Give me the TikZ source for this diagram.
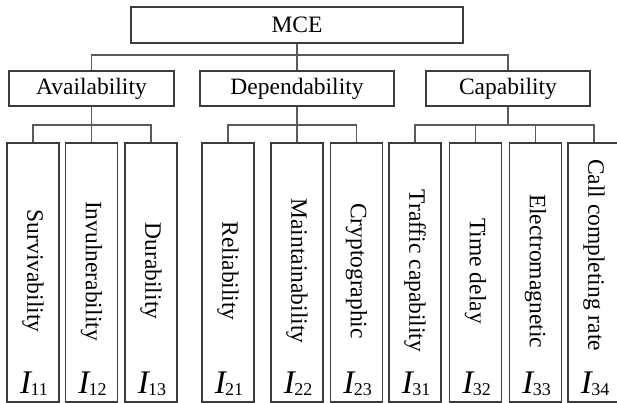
\documentclass[tikz,border=0pt]{standalone}
\usepackage{fontspec}
\setmainfont{Liberation Serif}
\definecolor{boxc}{RGB}{60,60,60}
\definecolor{linec}{RGB}{90,90,90}
\newcommand{\ilab}[1]{{\fontsize{33}{33}\selectfont\itshape I}\kern-0.5pt\raisebox{-2.5pt}{\fontsize{18}{18}\selectfont #1}}
\begin{document}
\begin{tikzpicture}[x=1pt,y=-1pt,
  box/.style={draw=boxc, line width=1.2pt, inner sep=0pt, font=\fontsize{23.5}{24}\selectfont},
  leaf/.style={draw=boxc, line width=1.2pt, minimum width=52pt, minimum height=259pt, inner sep=0pt},
  ltxt/.style={rotate=-90, font=\fontsize{23.5}{24}\selectfont, inner sep=0pt},
  ilabel/.style={anchor=base, inner sep=0pt},
  conn/.style={draw=linec, line width=1.2pt}]
\useasboundingbox (0,0) rectangle (617,403);
% top
\node[box, minimum width=332pt, minimum height=36pt] (mce) at (297,25) {MCE};
\node[box, minimum width=165pt, minimum height=35pt] (av) at (91.5,88.5) {Availability};
\node[box, minimum width=194pt, minimum height=35pt] (dep) at (297,88.5) {Dependability};
\node[box, minimum width=164pt, minimum height=35pt] (cap) at (508,88.5) {Capability};
\coordinate (t0) at (297,55);
\draw[conn] (mce.south) -- (t0);
\draw[conn] (av.north) |- (t0) -| (cap.north);
\draw[conn] (t0) -- (dep.north);
% leaves
\foreach \n/\cx in {l11/33, l12/91.5, l13/151, l21/228, l22/297, l23/356.5, l31/415, l32/475.5, l33/535.5, l34/594}{
  \node[leaf] (\n) at (\cx,272.5) {};
}
% group connectors
\coordinate (j1) at (91.5,125);
\coordinate (j2) at (297,125);
\coordinate (j3) at (508,125);
\draw[conn] (av.south) -- (j1);
\draw[conn] (l11.north) |- (j1) -| (l13.north);
\draw[conn] (j1) -- (l12.north);
\draw[conn] (dep.south) -- (j2);
\draw[conn] (l21.north) |- (j2) -| (l23.north);
\draw[conn] (j2) -- (l22.north);
\draw[conn] (cap.south) -- (j3);
\draw[conn] (l31.north) |- (j3) -| (l34.north);
\draw[conn] (l32.north |- j3) -- (l32.north);
\draw[conn] (l33.north |- j3) -- (l33.north);
% leaf texts
\node[ltxt] (s11) at (l11 |- 0,271) {Survivability};
\node[ltxt] (s12) at (l12 |- 0,271) {Invulnerability};
\node[ltxt] (s13) at (l13 |- 0,271) {Durability};
\node[ltxt] (s21) at (l21 |- 0,271) {Reliability};
\node[ltxt] (s22) at (l22 |- 0,271) {Maintainability};
\node[ltxt] (s23) at (l23 |- 0,271) {Cryptographic};
\node[ltxt] (s31) at (l31 |- 0,271) {Traffic capability};
\node[ltxt] (s32) at (l32 |- 0,271) {Time delay};
\node[ltxt] (s33) at (l33 |- 0,271) {Electromagnetic};
\node[ltxt] (s34) at (l34 |- 0,255) {Call completing rate};
% I labels
\node[ilabel] (i11) at ([xshift=1pt]l11 |- 0,393) {\ilab{11}};
\node[ilabel] (i12) at ([xshift=1pt]l12 |- 0,393) {\ilab{12}};
\node[ilabel] (i13) at ([xshift=1pt]l13 |- 0,393) {\ilab{13}};
\node[ilabel] (i21) at ([xshift=1pt]l21 |- 0,393) {\ilab{21}};
\node[ilabel] (i22) at ([xshift=1pt]l22 |- 0,393) {\ilab{22}};
\node[ilabel] (i23) at ([xshift=1pt]l23 |- 0,393) {\ilab{23}};
\node[ilabel] (i31) at ([xshift=1pt]l31 |- 0,393) {\ilab{31}};
\node[ilabel] (i32) at ([xshift=1pt]l32 |- 0,393) {\ilab{32}};
\node[ilabel] (i33) at ([xshift=1pt]l33 |- 0,393) {\ilab{33}};
\node[ilabel] (i34) at ([xshift=1pt]l34 |- 0,393) {\ilab{34}};
\end{tikzpicture}
\end{document}
